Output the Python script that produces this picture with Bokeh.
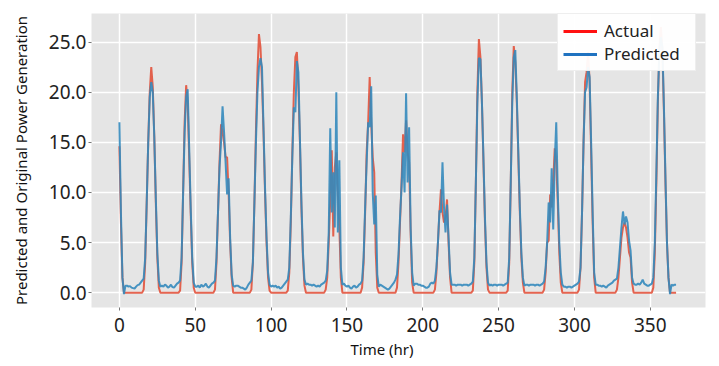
import numpy as np
from bokeh.plotting import figure
from bokeh.models import Legend, LegendItem, FixedTicker, NumeralTickFormatter, Title, Range1d
from bokeh.embed import file_html
from bokeh.resources import INLINE

# ---- data (hourly samples) ----
hours = list(range(368))

actual = [
    14.6, 7.0, 1.5, 0.0,                                   # 0-3
    0, 0, 0, 0, 0, 0, 0, 0, 0, 0, 0, 0,                    # 4-15
    0.3, 3, 9, 15, 20, 22.5, 20.5, 15.5, 9, 3.5, 0.5, 0,   # 16-27
    0, 0, 0, 0, 0, 0, 0, 0, 0, 0, 0, 0,                    # 28-39
    0.2, 3, 10, 17, 20.7, 19, 13.5, 8, 3, 0.5, 0,          # 40-50
    0, 0, 0, 0, 0, 0, 0, 0, 0, 0, 0, 0,                    # 51-62
    0.3, 3, 8, 13, 16.8, 16, 15, 13.5, 13.5, 10, 5, 1.5, 0,  # 63-75
    0, 0, 0, 0, 0, 0, 0, 0, 0, 0, 0,                       # 76-86
    0.3, 3, 9, 16, 22, 25.8, 24.5, 21, 16, 10, 5, 1.5, 0.2, 0,  # 87-100
    0, 0, 0, 0, 0, 0, 0, 0, 0, 0,                          # 101-110
    0.2, 2, 7, 14, 20, 23.5, 24, 20.5, 15, 8.5, 3.5, 0.7, 0,  # 111-123
    0, 0, 0, 0, 0, 0, 0, 0, 0, 0, 0, 0,                    # 124-135
    0.3, 1.5, 5, 9.3, 14.2, 5.6, 12.5, 14, 10, 6.5, 1.5, 0,  # 136-147
    0, 0, 0, 0, 0, 0, 0, 0, 0, 0, 0, 0,                    # 148-159
    0.5, 3, 8, 14, 17, 21.5, 17, 13.5, 12, 4, 0.5, 0,      # 160-171
    0, 0, 0, 0, 0, 0, 0, 0, 0, 0, 0,                       # 172-182
    0.5, 3, 7, 11, 15.8, 14, 17.2, 14, 13, 6, 1, 0,        # 183-194
    0, 0, 0, 0, 0, 0, 0, 0, 0, 0, 0, 0, 0,                 # 195-207
    0.3, 2, 5, 8, 10.3, 8, 7, 7.5, 9.3, 5, 1.5, 0,         # 208-219
    0, 0, 0, 0, 0, 0, 0, 0, 0, 0, 0, 0, 0,                 # 220-232
    0.2, 3, 11, 20, 25.3, 23.5, 19, 13, 7, 2.5, 0.3, 0,    # 233-244
    0, 0, 0, 0, 0, 0, 0, 0, 0, 0, 0,                       # 245-255
    0.2, 3, 11, 20, 24.6, 23, 19, 13.5, 8, 3.5, 1, 0,      # 256-267
    0, 0, 0, 0, 0, 0, 0, 0, 0, 0, 0, 0,                    # 268-279
    0.3, 2, 5, 5.2, 9.8, 8.5, 11, 14.4, 13, 9, 4, 1, 0,    # 280-292
    0, 0, 0, 0, 0, 0, 0, 0, 0, 0,                          # 293-302
    0.3, 2.5, 8, 15, 21, 22, 24, 21, 14, 7, 1.5, 0,        # 303-314
    0, 0, 0, 0, 0, 0, 0, 0, 0, 0, 0, 0, 0,                 # 315-327
    0.3, 1.5, 3.5, 5.5, 6.5, 7.0, 6.5, 5.5, 4, 3.5, 1, 0,  # 328-339
    0, 0, 0, 0, 0, 0, 0, 0, 0, 0, 0, 0,                    # 340-351
    0.5, 4, 11, 19, 24.5, 26.5, 24, 18, 11, 5, 1.5, 0,     # 352-363
    0, 0, 0, 0,                                            # 364-367
]

predicted = [
    17.0, 8.0, 1.5, -0.15,
    0.7, 0.7, 0.6, 0.65, 0.5, 0.45, 0.4, 0.6, 0.75, 0.8, 1.0, 1.2,
    1.4, 3.5, 9, 15, 19.5, 21, 20, 15.5, 9.5, 4, 1.2, 0.6,
    0.7, 0.6, 0.8, 0.7, 0.5, 0.6, 0.8, 0.55, 0.5, 0.7, 0.9, 1.0,
    1.2, 3.5, 10, 16, 19.5, 20.3, 14.5, 8.5, 3.5, 1.0, 0.6,
    0.6, 0.7, 0.5, 0.8, 0.6, 0.7, 0.9, 0.6, 0.5, 0.7, 0.9, 1.0,
    1.2, 3.5, 8, 12.5, 15, 18.6, 16, 13, 9.8, 11.4, 5.5, 1.8, 0.7,
    0.6, 0.7, 0.7, 0.6, 0.5, 0.5, 0.4, 0.3, 0.5, 0.8, 1.0,
    1.2, 3, 9, 15, 20, 22.5, 23.4, 22.5, 16.5, 10.5, 5.5, 2, 0.8, 0.6,
    0.7, 0.6, 0.7, 0.5, 0.6, 0.4, 0.5, 0.7, 0.9, 1.1,
    1.3, 2.5, 7.5, 13.5, 18.5, 18, 23.1, 22, 15.5, 9, 4, 1.3, 0.8,
    0.9, 0.8, 0.8, 0.7, 0.8, 0.7, 0.6, 0.7, 0.6, 0.8, 0.9, 1.0,
    1.2, 2.2, 6, 16.4, 8, 12, 6.5, 20, 6, 13.2, 2.5, 0.8,
    0.9, 0.7, 0.6, 0.7, 0.5, 0.4, 0.6, 0.7, 0.5, 0.6, 0.8, 0.9,
    1.2, 3.5, 8.5, 13, 17, 16.5, 20.6, 10, 6.8, 9.7, 1.8, 0.6,
    0.8, 0.7, 0.6, 0.5, 0.4, 0.3, 0.4, 0.6, 0.8, 1.0, 1.3,
    1.8, 3.8, 7.5, 10.5, 14, 10, 19.9, 11, 16.5, 6.5, 2, 0.7,
    0.9, 0.9, 0.8, 0.8, 0.7, 0.7, 0.6, 0.5, 0.5, 0.6, 0.9, 1.0, 0.9,
    1.2, 2.5, 5, 8.2, 8, 13.0, 8.5, 6.0, 8.8, 5.5, 2, 0.8,
    0.8, 0.8, 0.7, 0.8, 0.8, 0.8, 0.7, 0.8, 0.8, 0.8, 0.7, 0.8, 0.9,
    1.1, 3.5, 11, 19, 23.4, 23.3, 19, 13.5, 7.5, 3, 1, 0.7,
    0.8, 0.7, 0.8, 0.8, 0.7, 0.8, 0.8, 0.8, 0.7, 0.8, 0.9,
    1.0, 3.5, 11, 19, 23.5, 24.2, 19.5, 14, 8.5, 4, 1.5, 0.7,
    0.8, 0.8, 0.7, 0.8, 0.8, 0.8, 0.7, 0.8, 0.8, 0.7, 0.8, 0.9,
    1.1, 2.5, 5, 9.0, 7, 12.4, 6.3, 13, 17.0, 10, 5, 2, 0.8,
    0.6, 0.6, 0.5, 0.6, 0.6, 0.5, 0.6, 0.7, 0.8, 0.9,
    1.1, 2.5, 8, 15, 20, 20.5, 22.5, 21.5, 15, 8, 2, 0.8,
    0.8, 0.7, 0.7, 0.6, 0.7, 0.6, 0.5, 0.7, 0.8, 0.9, 1.0, 1.2, 1.3,
    1.4, 2.5, 4.5, 6.5, 8.1, 6.8, 7.6, 7.0, 5.2, 4.2, 1.5, 0.9,
    0.8, 0.8, 0.9, 0.8, 1.0, 1.3, 0.9, 0.8, 0.7, 0.7, 0.8, 0.9,
    1.5, 5, 12, 19.5, 24, 25.5, 24.5, 18.5, 11.5, 5, 1.5, -0.15,
    0.8, 0.7, 0.8, 0.8,
]

assert len(actual) == len(hours) and len(predicted) == len(hours)

x_ticks = [0, 50, 100, 150, 200, 250, 300, 350]
y_ticks = [0, 5, 10, 15, 20, 25]

FONT = "Noto Sans"

p = figure(width=710, height=360, output_backend="svg", toolbar_location=None,
           x_range=Range1d(-18.4, 386.4), y_range=Range1d(-1.48, 27.85),
           min_border_left=91, min_border_right=5, min_border_top=13, min_border_bottom=49)

p.background_fill_color = "#E5E5E5"
p.border_fill_color = "white"
p.outline_line_color = None

r_act = p.line(hours, actual, line_color="#E24A33", line_width=2, line_alpha=0.85)
r_pred = p.line(hours, predicted, line_color="#348ABD", line_width=2, line_alpha=0.9)

# legend swatches
nan = [np.nan]
l_act = p.line(nan, nan, line_color="#FF1010", line_width=3)
l_pred = p.line(nan, nan, line_color="#1F72C0", line_width=3)

legend = Legend(items=[LegendItem(label="Actual", renderers=[l_act]),
                       LegendItem(label="Predicted", renderers=[l_pred])],
                location=(466, 236), margin=0, padding=5, spacing=0,
                glyph_width=34, glyph_height=20, label_height=20, label_width=86,
                label_standoff=7,
                label_text_font=FONT, label_text_font_size="17px",
                label_text_color="#222222",
                background_fill_color="white", background_fill_alpha=0.95,
                border_line_color="#DDDDDD", border_line_width=1)
p.add_layout(legend)

for g in (p.xgrid, p.ygrid):
    g.grid_line_color = "white"
    g.grid_line_width = 1.5
p.xgrid.ticker = FixedTicker(ticks=x_ticks)
p.ygrid.ticker = FixedTicker(ticks=y_ticks)

p.xaxis.ticker = FixedTicker(ticks=x_ticks)
p.yaxis.ticker = FixedTicker(ticks=y_ticks)
p.yaxis.formatter = NumeralTickFormatter(format="0.0")

for ax in (p.xaxis, p.yaxis):
    ax.axis_line_color = None
    ax.major_tick_line_color = "#777777"
    ax.major_tick_out = 3
    ax.major_tick_in = 0
    ax.minor_tick_line_color = None
    ax.major_label_text_font = FONT
    ax.major_label_text_font_size = "19px"
    ax.major_label_text_color = "#222222"

p.xaxis.major_label_standoff = 7
p.yaxis.major_label_standoff = 2

p.yaxis.axis_label = "Predicted and Original Power Generation"
p.yaxis.axis_label_text_font = FONT
p.yaxis.axis_label_text_font_size = "15px"
p.yaxis.axis_label_text_font_style = "normal"
p.yaxis.axis_label_text_color = "#111111"
p.yaxis.axis_label_standoff = 15

p.add_layout(Title(text="Time (hr)", align="left", offset=259, standoff=4,
                   text_font=FONT, text_font_size="15px", text_font_style="normal",
                   text_color="#111111"), "below")

open("out.html", "w").write(file_html(p, INLINE))
